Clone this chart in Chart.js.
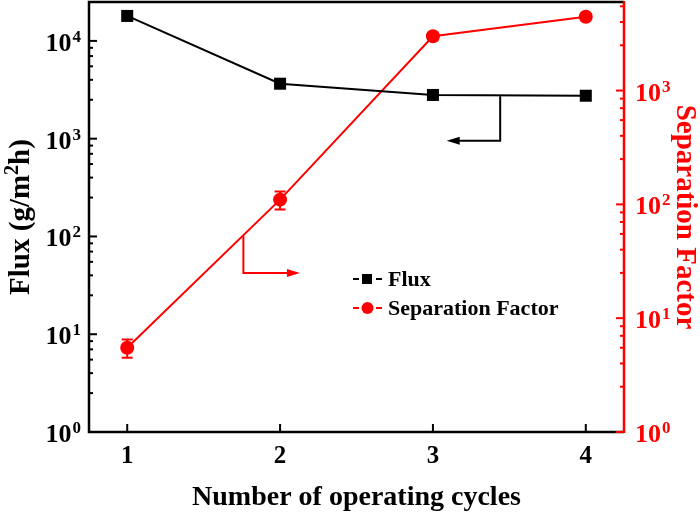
<!DOCTYPE html>
<html>
<head>
<meta charset="utf-8">
<script src="https://cdn.jsdelivr.net/npm/chart.js@4.4.1/dist/chart.umd.min.js"></script>
<style>
  html, body { margin: 0; padding: 0; background: #fff; }
  #wrap { width: 700px; height: 516px; }
</style>
</head>
<body>
<div id="wrap"><canvas id="fluxChart" width="700" height="516"></canvas></div>
<script>
// data
const cycles = [1, 2, 3, 4];
const flux = [18000, 3650, 2800, 2750];
const sepFactor = [5.5, 110, 3000, 4450];
const sepError = [1, 20, 200, 250];

const xTicks = [1, 2, 3, 4];
const fluxTicks = [1, 10, 100, 1000, 10000];
const sepTicks = [1, 10, 100, 1000];
const minorSteps = [2.5, 4, 5.5, 7, 8.5]; // Origin style minor ticks per decade

// arrows pointing at the axis each series belongs to
const fluxArrow = { from: 3.44, to: 3.09, down: 950 };
const sepArrow = { from: 1.76, to: 2.13, down: 25 };

const RED = '#ff0000';
const SERIF = "'Liberation Serif', 'Times New Roman', serif";

function powLabel(ctx, exp, x, y, align, color) {
    ctx.save();
    ctx.fillStyle = color;
    ctx.textBaseline = 'alphabetic';
    ctx.font = 'bold 26px ' + SERIF;
    const wBase = ctx.measureText('10').width;
    ctx.font = 'bold 17px ' + SERIF;
    const wSup = ctx.measureText(exp).width;
    const start = align === 'right' ? x - wBase - wSup : x;
    ctx.textAlign = 'left';
    ctx.font = 'bold 26px ' + SERIF;
    ctx.fillText('10', start, y + 10);
    ctx.font = 'bold 17px ' + SERIF;
    ctx.fillText(exp, start + wBase + 1, y + 1);
    ctx.restore();
}

function logTicks(ctx, scale, ticks, x, dir, color) {
    ctx.save();
    ctx.strokeStyle = color;
    ctx.lineWidth = 2;
    ticks.forEach(t => {
        const y = scale.getPixelForValue(t);
        ctx.beginPath(); ctx.moveTo(x, y); ctx.lineTo(x + dir * 8, y); ctx.stroke();
        minorSteps.forEach(m => {
            const v = t * m;
            if (v > scale.max) return;
            const ym = scale.getPixelForValue(v);
            ctx.beginPath(); ctx.moveTo(x, ym); ctx.lineTo(x + dir * 4, ym); ctx.stroke();
        });
    });
    ctx.restore();
}

function elbowArrow(ctx, x0, y0, y1, x1, color) {
    ctx.save();
    ctx.strokeStyle = color;
    ctx.fillStyle = color;
    ctx.lineWidth = 2;
    const dir = Math.sign(x1 - x0);
    ctx.beginPath();
    ctx.moveTo(x0, y0); ctx.lineTo(x0, y1); ctx.lineTo(x1 - dir * 10, y1);
    ctx.stroke();
    ctx.beginPath();
    ctx.moveTo(x1, y1);
    ctx.lineTo(x1 - dir * 13, y1 - 4);
    ctx.lineTo(x1 - dir * 13, y1 + 4);
    ctx.closePath();
    ctx.fill();
    ctx.restore();
}

function lineY(meta, xPix) {
    const pts = meta.data;
    for (let i = 0; i < pts.length - 1; i++) {
        if (xPix >= pts[i].x && xPix <= pts[i + 1].x) {
            const f = (xPix - pts[i].x) / (pts[i + 1].x - pts[i].x);
            return pts[i].y + f * (pts[i + 1].y - pts[i].y);
        }
    }
    return pts[0].y;
}

const decorations = {
    id: 'decorations',
    beforeDatasetsDraw(chart) {
        // error bars for the separation factor
        const ctx = chart.ctx;
        const xs = chart.scales.x, yr = chart.scales.yR;
        ctx.save();
        ctx.strokeStyle = RED;
        ctx.lineWidth = 2;
        cycles.forEach((c, i) => {
            const x = xs.getPixelForValue(c);
            const yT = yr.getPixelForValue(sepFactor[i] + sepError[i]);
            const yB = yr.getPixelForValue(sepFactor[i] - sepError[i]);
            ctx.beginPath();
            ctx.moveTo(x, yT); ctx.lineTo(x, yB);
            ctx.moveTo(x - 5.5, yT); ctx.lineTo(x + 5.5, yT);
            ctx.moveTo(x - 5.5, yB); ctx.lineTo(x + 5.5, yB);
            ctx.stroke();
        });
        ctx.restore();
    },
    afterDraw(chart) {
        const ctx = chart.ctx;
        const a = chart.chartArea;
        const xs = chart.scales.x, yl = chart.scales.yL, yr = chart.scales.yR;

        // frame
        ctx.save();
        ctx.lineWidth = 2.5;
        ctx.strokeStyle = '#000';
        ctx.beginPath();
        ctx.moveTo(a.right, a.top); ctx.lineTo(a.left, a.top);
        ctx.lineTo(a.left, a.bottom); ctx.lineTo(a.right, a.bottom);
        ctx.stroke();
        ctx.strokeStyle = RED;
        ctx.beginPath();
        ctx.moveTo(a.right, a.top - 1); ctx.lineTo(a.right, a.bottom + 1);
        ctx.stroke();

        // x ticks (inward)
        ctx.strokeStyle = '#000';
        ctx.lineWidth = 2;
        xTicks.forEach(v => {
            const x = xs.getPixelForValue(v);
            ctx.beginPath(); ctx.moveTo(x, a.bottom); ctx.lineTo(x, a.bottom - 8); ctx.stroke();
        });
        ctx.restore();

        logTicks(ctx, yl, fluxTicks, a.left, 1, '#000');
        logTicks(ctx, yr, sepTicks, a.right, -1, RED);

        fluxTicks.forEach(t => powLabel(ctx, String(Math.round(Math.log10(t))), a.left - 9, yl.getPixelForValue(t), 'right', '#000'));
        sepTicks.forEach(t => powLabel(ctx, String(Math.round(Math.log10(t))), a.right + 11, yr.getPixelForValue(t), 'left', RED));

        // left axis title with superscript
        ctx.save();
        ctx.translate(22, (a.top + a.bottom) / 2);
        ctx.rotate(-Math.PI / 2);
        ctx.fillStyle = '#000';
        ctx.textBaseline = 'middle';
        ctx.textAlign = 'left';
        const big = 'bold 29px ' + SERIF, small = 'bold 20px ' + SERIF;
        ctx.font = big;
        const p1 = 'Flux (g/m', p3 = 'h)';
        const w1 = ctx.measureText(p1).width, w3 = ctx.measureText(p3).width;
        ctx.font = small;
        const w2 = ctx.measureText('2').width;
        let cx = -(w1 + w2 + w3) / 2;
        ctx.font = big;
        ctx.fillText(p1, cx, 0); cx += w1;
        ctx.font = small;
        ctx.fillText('2', cx, -9); cx += w2;
        ctx.font = big;
        ctx.fillText(p3, cx, 0);
        ctx.restore();

        // right axis title
        ctx.save();
        ctx.translate(684, (a.top + a.bottom) / 2);
        ctx.rotate(Math.PI / 2);
        ctx.fillStyle = RED;
        ctx.font = 'bold 29px ' + SERIF;
        ctx.textAlign = 'center';
        ctx.textBaseline = 'middle';
        ctx.fillText('Separation Factor', 0, 0);
        ctx.restore();

        // arrows
        const fx0 = xs.getPixelForValue(fluxArrow.from);
        elbowArrow(ctx, fx0, lineY(chart.getDatasetMeta(0), fx0) + 1, yl.getPixelForValue(fluxArrow.down),
            xs.getPixelForValue(fluxArrow.to), '#000');
        const sx0 = xs.getPixelForValue(sepArrow.from);
        elbowArrow(ctx, sx0, lineY(chart.getDatasetMeta(1), sx0), yr.getPixelForValue(sepArrow.down),
            xs.getPixelForValue(sepArrow.to), RED);

        // legend
        const lx = 353, rows = [279, 308];
        ctx.save();
        ctx.lineWidth = 2;
        ctx.font = 'bold 22px ' + SERIF;
        ctx.textBaseline = 'alphabetic';
        ctx.fillStyle = '#000';
        ctx.strokeStyle = '#000';
        ctx.beginPath();
        ctx.moveTo(lx, rows[0]); ctx.lineTo(lx + 6, rows[0]);
        ctx.moveTo(lx + 23, rows[0]); ctx.lineTo(lx + 29, rows[0]);
        ctx.stroke();
        ctx.fillRect(lx + 9, rows[0] - 5, 10, 10);
        ctx.fillText('Flux', lx + 35, rows[0] + 7);
        ctx.strokeStyle = RED;
        ctx.fillStyle = RED;
        ctx.beginPath();
        ctx.moveTo(lx, rows[1]); ctx.lineTo(lx + 6, rows[1]);
        ctx.moveTo(lx + 23, rows[1]); ctx.lineTo(lx + 29, rows[1]);
        ctx.stroke();
        ctx.beginPath();
        ctx.arc(lx + 14.5, rows[1], 6, 0, Math.PI * 2);
        ctx.fill();
        ctx.fillStyle = '#000';
        ctx.fillText('Separation Factor', lx + 35, rows[1] + 7);
        ctx.restore();
    }
};

const ctx = document.getElementById('fluxChart').getContext('2d');

new Chart(ctx, {
    type: 'line',
    data: {
        datasets: [
            {
                label: 'Flux',
                data: cycles.map((c, i) => ({ x: c, y: flux[i] })),
                yAxisID: 'yL',
                borderColor: '#000',
                backgroundColor: '#000',
                borderWidth: 2,
                pointStyle: 'rect',
                pointRadius: 8.5,
                pointBorderWidth: 0,
                tension: 0
            },
            {
                label: 'Separation Factor',
                data: cycles.map((c, i) => ({ x: c, y: sepFactor[i] })),
                yAxisID: 'yR',
                borderColor: RED,
                backgroundColor: RED,
                borderWidth: 2,
                pointStyle: 'circle',
                pointRadius: 7,
                pointBorderWidth: 0,
                tension: 0
            }
        ]
    },
    options: {
        responsive: false,
        animation: false,
        layout: { autoPadding: false, padding: { top: 2, left: 0, right: 0, bottom: 0 } },
        plugins: {
            legend: { display: false },
            tooltip: { enabled: false }
        },
        scales: {
            x: {
                type: 'linear',
                position: 'bottom',
                min: 0.75,
                max: 4.25,
                afterBuildTicks: s => { s.ticks = xTicks.map(v => ({ value: v })); },
                afterFit: s => { s.height = 84; },
                grid: { display: false, drawTicks: false },
                border: { display: false },
                ticks: {
                    color: '#000',
                    padding: 10,
                    font: { family: SERIF, weight: 'bold', size: 25 }
                },
                title: {
                    display: true,
                    text: 'Number of operating cycles',
                    color: '#000',
                    padding: { top: 0, bottom: 1 },
                    font: { family: SERIF, weight: 'bold', size: 28 }
                }
            },
            yL: {
                type: 'logarithmic',
                position: 'left',
                min: 1,
                max: 25000,
                afterFit: s => { s.width = 89; },
                grid: { display: false, drawTicks: false },
                border: { display: false },
                ticks: { display: false }
            },
            yR: {
                type: 'logarithmic',
                position: 'right',
                min: 1,
                max: 6000,
                afterFit: s => { s.width = 76; },
                grid: { display: false, drawTicks: false },
                border: { display: false },
                ticks: { display: false }
            }
        }
    },
    plugins: [decorations]
});
</script>
</body>
</html>
